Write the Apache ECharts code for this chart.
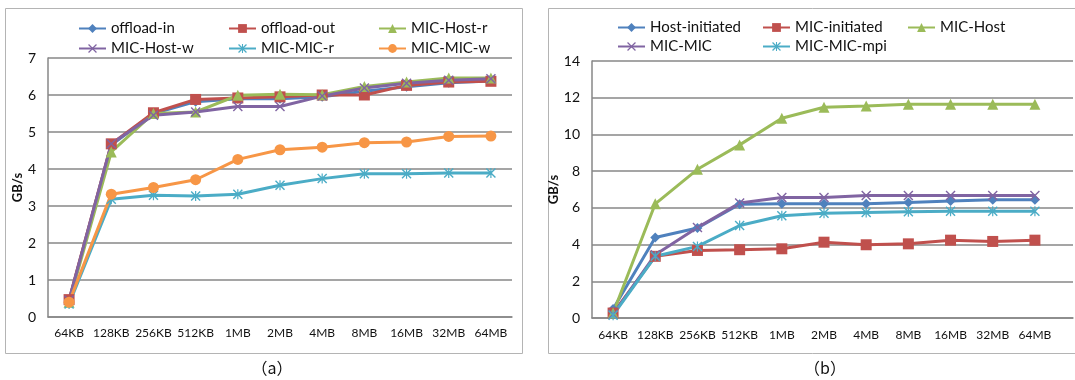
<!DOCTYPE html>
<html>
<head>
<meta charset="utf-8">
<script src="https://cdn.jsdelivr.net/npm/echarts@6/dist/echarts.min.js"></script>
<style>
html,body{margin:0;padding:0;background:#fff;}
#c{width:1075px;height:380px;}
</style>
</head>
<body>
<div id="c"></div>
<script>
// ---- data ----
const categories = ['64KB','128KB','256KB','512KB','1MB','2MB','4MB','8MB','16MB','32MB','64MB'];

// panel (a)
const offloadIn  = [0.45,4.65,5.50,5.82,5.90,5.90,5.95,6.10,6.22,6.33,6.38];
const offloadOut = [0.47,4.68,5.52,5.88,5.92,5.95,6.00,6.00,6.26,6.35,6.37];
const micHostR   = [0.40,4.46,5.50,5.54,5.99,6.02,6.01,6.23,6.35,6.46,6.46];
const micHostW   = [0.45,4.68,5.45,5.54,5.69,5.69,5.97,6.19,6.32,6.40,6.44];
const micMicR    = [0.35,3.18,3.29,3.27,3.32,3.56,3.74,3.87,3.87,3.89,3.89];
const micMicW    = [0.40,3.32,3.50,3.71,4.26,4.52,4.59,4.71,4.73,4.88,4.89];

// panel (b)
const hostInit   = [0.49,4.39,4.90,6.20,6.22,6.22,6.22,6.29,6.38,6.44,6.44];
const micInit    = [0.27,3.36,3.68,3.72,3.77,4.13,3.99,4.04,4.24,4.17,4.24];
const micHost    = [0.27,6.22,8.10,9.43,10.88,11.48,11.55,11.64,11.64,11.64,11.64];
const micMic     = [0.20,3.45,4.93,6.26,6.56,6.56,6.67,6.67,6.67,6.67,6.67];
const micMicMpi  = [0.15,3.36,3.90,5.04,5.57,5.71,5.75,5.79,5.82,5.82,5.82];

const seriesNamesA = ['offload-in','offload-out','MIC-Host-r','MIC-Host-w','MIC-MIC-r','MIC-MIC-w'];
const seriesNamesB = ['Host-initiated','MIC-initiated','MIC-Host','MIC-MIC','MIC-MIC-mpi'];

const yTicksA = {min:0, max:7, interval:1};
const yTicksB = {min:0, max:14, interval:2};

// ---- style ----
const FONT = 'Lato, "Open Sans", "Liberation Sans", sans-serif';
const C = {blue:'#4F81BD', red:'#C0504D', green:'#9BBB59', purple:'#8064A2', cyan:'#4BACC6', orange:'#F79646'};
const GRID_C = '#878787';
const X_PATH = 'path://M1,0 L5,4 L9,0 L10,1 L6,5 L10,9 L9,10 L5,6 L1,10 L0,9 L4,5 L0,1 Z';
const STAR_PATH = 'path://M1,0 L5,4 L9,0 L10,1 L6,5 L10,9 L9,10 L5,6 L1,10 L0,9 L4,5 L0,1 Z M4.4,0 L5.6,0 L5.6,10 L4.4,10 Z';

function line(name, data, color, symbol, size, xi, yi){
  return {
    name, type:'line', data, xAxisIndex:xi, yAxisIndex:yi,
    symbol, symbolSize:size, showSymbol:true,
    lineStyle:{color, width:3},
    itemStyle:{color, borderWidth:0},
    emphasis:{disabled:true},
    animation:false
  };
}

// legend placement: one legend per item, in a 3-column layout
function legendsFor(names, x0, colStep, y0, rowStep){
  return names.map((n, i) => ({
    data:[n], left: x0 + (i % 3) * colStep, top: y0 + Math.floor(i / 3) * rowStep,
    itemWidth:27, itemHeight:11, itemGap:0, padding:0, selectedMode:false,
    textStyle:{fontFamily:FONT, fontSize:15, color:'#111'}
  }));
}

const axisLabelStyle = {color:'#111', fontSize:12, fontFamily:FONT};

const option = {
  animation:false,
  backgroundColor:'#fff',
  textStyle:{fontFamily:FONT},
  graphic:[
    {type:'rect', shape:{x:5.5, y:8.5, width:517, height:345}, style:{fill:'none', stroke:'#b4b4b4', lineWidth:1}, z:-10},
    {type:'rect', shape:{x:548.5, y:8.5, width:540, height:345}, style:{fill:'none', stroke:'#b4b4b4', lineWidth:1}, z:-10},
    {type:'text', x:272, y:368, style:{text:'（a）', fontSize:16, fontFamily:'"Noto Sans CJK SC", sans-serif', fill:'#111', align:'center', verticalAlign:'middle'}},
    {type:'text', x:825, y:368, style:{text:'（b）', fontSize:16, fontFamily:'"Noto Sans CJK SC", sans-serif', fill:'#111', align:'center', verticalAlign:'middle'}}
  ],
  legend: legendsFor(seriesNamesA, 78, 150, 21, 20).concat(legendsFor(seriesNamesB, 617, 145, 20, 19)),
  grid:[
    {left:48, top:58, width:464, height:259},
    {left:592, top:61, width:464, height:257},
    {left:592, top:61, width:481, height:257}
  ],
  xAxis:[
    {type:'category', gridIndex:0, data:categories, boundaryGap:true,
     axisLine:{show:true, lineStyle:{color:GRID_C, width:1.5}}, axisTick:{show:false},
     axisLabel:Object.assign({margin:10, interval:0}, axisLabelStyle)},
    {type:'category', gridIndex:1, data:categories, boundaryGap:true,
     axisLine:{show:false}, axisTick:{show:false},
     axisLabel:Object.assign({margin:11, interval:0}, axisLabelStyle)},
    {type:'value', gridIndex:2, min:0, max:1,
     axisLine:{show:true, lineStyle:{color:GRID_C, width:1.5}}, axisTick:{show:false},
     axisLabel:{show:false}, splitLine:{show:false}}
  ],
  yAxis:[
    {type:'value', gridIndex:0, min:yTicksA.min, max:yTicksA.max, interval:yTicksA.interval,
     name:'GB/s', nameLocation:'middle', nameGap:22, nameTextStyle:{fontWeight:'bold', fontSize:13, color:'#111', fontFamily:FONT},
     axisLine:{show:true, lineStyle:{color:GRID_C, width:1.5}}, axisTick:{show:false},
     axisLabel:Object.assign({margin:12}, axisLabelStyle, {fontSize:14}),
     splitLine:{show:true, lineStyle:{color:GRID_C, width:1.5}}},
    {type:'value', gridIndex:1, min:yTicksB.min, max:yTicksB.max, interval:yTicksB.interval, show:false},
    {type:'value', gridIndex:2, min:yTicksB.min, max:yTicksB.max, interval:yTicksB.interval,
     name:'GB/s', nameLocation:'middle', nameGap:25, nameTextStyle:{fontWeight:'bold', fontSize:13, color:'#111', fontFamily:FONT},
     axisLine:{show:true, lineStyle:{color:GRID_C, width:1.5}}, axisTick:{show:false},
     axisLabel:Object.assign({margin:12}, axisLabelStyle, {fontSize:14}),
     splitLine:{show:true, lineStyle:{color:GRID_C, width:1.5}}}
  ],
  series:[
    line('offload-in',  offloadIn,  C.blue,   'diamond',  10, 0, 0),
    line('offload-out', offloadOut, C.red,    'rect',     11, 0, 0),
    line('MIC-Host-r',  micHostR,   C.green,  'triangle', 11, 0, 0),
    line('MIC-Host-w',  micHostW,   C.purple, X_PATH,     10, 0, 0),
    line('MIC-MIC-r',   micMicR,    C.cyan,   STAR_PATH,  10, 0, 0),
    line('MIC-MIC-w',   micMicW,    C.orange, 'circle',   11, 0, 0),

    line('Host-initiated', hostInit,  C.blue,   'diamond',  10, 1, 1),
    line('MIC-initiated',  micInit,   C.red,    'rect',     11, 1, 1),
    line('MIC-Host',       micHost,   C.green,  'triangle', 11, 1, 1),
    line('MIC-MIC',        micMic,    C.purple, X_PATH,     10, 1, 1),
    line('MIC-MIC-mpi',    micMicMpi, C.cyan,   STAR_PATH,  10, 1, 1)
  ]
};

const chart = echarts.init(document.getElementById('c'), null, {renderer:'canvas'});
chart.setOption(option);
</script>
</body>
</html>
